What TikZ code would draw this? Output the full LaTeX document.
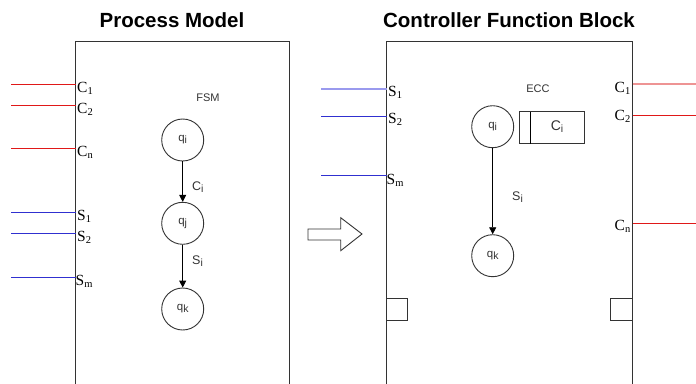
\documentclass[tikz,border=0pt]{standalone}
\usepackage{fontspec}
\setmainfont{Liberation Serif}
\setsansfont{Liberation Sans}
\usetikzlibrary{arrows.meta}
\definecolor{ln}{HTML}{333333}
\definecolor{redl}{HTML}{E01818}
\definecolor{bluel}{HTML}{3030D0}
\definecolor{lightred}{HTML}{EE9494}
\definecolor{lightblue}{HTML}{9A9AEE}
\definecolor{txt}{HTML}{333333}
\tikzset{
  title/.style={font=\sffamily\bfseries\fontsize{20.5}{22}\selectfont, text=black},
  box/.style={draw=ln, line width=1pt},
  port/.style={font=\fontsize{15.5}{16}\selectfont, inner sep=0pt, text=black},
  state/.style={draw=ln, circle, minimum size=42pt, inner sep=0pt, line width=0.9pt, font=\sffamily\fontsize{11.5}{12}\selectfont, text=txt},
  small/.style={font=\sffamily\fontsize{11}{12}\selectfont, text=txt, inner sep=0pt},
  elab/.style={font=\sffamily\fontsize{12.5}{13}\selectfont, text=txt, inner sep=0pt},
  trans/.style={draw=black, line width=0.9pt, -{Triangle[length=7pt,width=7pt]}},
  redw/.style={draw=redl, line width=1.3pt},
  bluew/.style={draw=bluel, line width=1.3pt},
}
\newcommand{\subx}[1]{\raisebox{-0.25ex}{\fontsize{10.5}{10}\selectfont #1}}
\begin{document}
\begin{tikzpicture}[x=1pt,y=-1pt]
\useasboundingbox (0,0) rectangle (696,383);
\fill[white] (0,0) rectangle (696,383);
\begin{scope}
\clip (0,0) rectangle (696,383);
% titles
\node[title] (t1) at (172,20) {Process Model};
\node[title] (t2) at (509,20) {Controller Function Block};
% boxes
\draw[box] (75.5,400) -- (75.5,41.5) -- (289.5,41.5) -- (289.5,400);
\draw[box] (386.5,400) -- (386.5,41.5) -- (632.5,41.5) -- (632.5,400);
% left coordinates
\coordinate (lc1a) at (11,84.5);  \coordinate (lc1b) at (75.5,84.5);
\coordinate (lc2a) at (11,105.5); \coordinate (lc2b) at (75.5,105.5);
\coordinate (lcna) at (11,148.5); \coordinate (lcnb) at (75.5,148.5);
\coordinate (ls1a) at (11,212.5); \coordinate (ls1b) at (75.5,212.5);
\coordinate (ls2a) at (11,233.5); \coordinate (ls2b) at (75.5,233.5);
\coordinate (lsma) at (11,277.5); \coordinate (lsmb) at (75.5,277.5);
\draw[redw] (lc1a) -- (lc1b);
\draw[redw] (lc2a) -- (lc2b);
\draw[redw] (lcna) -- (lcnb);
\draw[bluew] (ls1a) -- (ls1b);
\draw[bluew] (ls2a) -- (ls2b);
\draw[bluew] (lsma) -- (lsmb);
\node[port, anchor=west] (plc1) at (77,88) {C\subx{1}};
\node[port, anchor=west] (plc2) at (77,109.5) {C\subx{2}};
\node[port, anchor=west] (plcn) at (77,152.5) {C\subx{n}};
\node[port, anchor=west] (pls1) at (77,216) {S\subx{1}};
\node[port, anchor=west] (pls2) at (77,237) {S\subx{2}};
\node[port, anchor=west] (plsm) at (75.5,281.5) {S\subx{m}};
% FSM
\node[small] (fsm) at (208,98) {FSM};
\node[state] (qi) at (182.7,140) {q\subx{i}};
\node[state] (qj) at (182.7,223.3) {q\subx{j}};
\node[state] (qk) at (182.7,309) {q\subx{k}};
\draw[trans] (qi) -- (qj);
\draw[trans] (qj) -- (qk);
\node[elab, anchor=west] (lci) at (192,187) {C\subx{i}};
\node[elab, anchor=west] (lsi) at (192,261) {S\subx{i}};
% hollow arrow
\draw[draw=ln, line width=0.9pt, fill=white] (308,229) -- (340.7,229) -- (340.7,217.7) -- (362,234) -- (340.7,250.7) -- (340.7,240) -- (308,240) -- cycle;
% right block inputs
\coordinate (rs1a) at (321,89);   \coordinate (rs1b) at (386.5,89);
\coordinate (rs2a) at (321,116.5);\coordinate (rs2b) at (386.5,116.5);
\coordinate (rsma) at (321,175.5);\coordinate (rsmb) at (386.5,175.5);
\draw[draw=lightblue, line width=2pt] (rs1a) -- (rs1b);
\draw[bluew] (rs2a) -- (rs2b);
\draw[bluew] (rsma) -- (rsmb);
\node[port, anchor=west] (prs1) at (388,92) {S\subx{1}};
\node[port, anchor=west] (prs2) at (388,119.5) {S\subx{2}};
\node[port, anchor=west] (prsm) at (386.5,180) {S\subx{m}};
% right block outputs
\coordinate (rc1a) at (632.5,84); \coordinate (rc1b) at (696,84);
\coordinate (rc2a) at (632.5,115.5);\coordinate (rc2b) at (696,115.5);
\coordinate (rcna) at (632.5,223.5);\coordinate (rcnb) at (696,223.5);
\draw[draw=lightred, line width=2pt] (rc1a) -- (rc1b);
\draw[redw] (rc2a) -- (rc2b);
\draw[redw] (rcna) -- (rcnb);
\node[port, anchor=east] (prc1) at (630.5,88) {C\subx{1}};
\node[port, anchor=east] (prc2) at (630.5,116) {C\subx{2}};
\node[port, anchor=east] (prcn) at (630.5,226.5) {C\subx{n}};
% ECC
\node[small] (ecc) at (538,89) {ECC};
\node[state] (rqi) at (492.7,126.7) {q\subx{i}};
\node[state] (rqk) at (492.7,255.7) {q\subx{k}};
\draw[trans] (rqi) -- (rqk);
\node[elab, anchor=west] (rsi) at (512,197) {S\subx{i}};
\draw[draw=ln, line width=0.9pt] (519.5,111.5) rectangle (584.5,143.5);
\draw[draw=black, line width=0.9pt] (530.5,111.5) -- (530.5,143.5);
\node[elab, font=\sffamily\fontsize{14}{15}\selectfont] (aci) at (557,127) {C\subx{i}};
% small squares
\draw[draw=ln, line width=0.9pt] (386.5,298.5) rectangle (407.5,320.5);
\draw[draw=ln, line width=0.9pt] (610.5,298.5) rectangle (632.5,320.5);
\end{scope}
\end{tikzpicture}
\end{document}
